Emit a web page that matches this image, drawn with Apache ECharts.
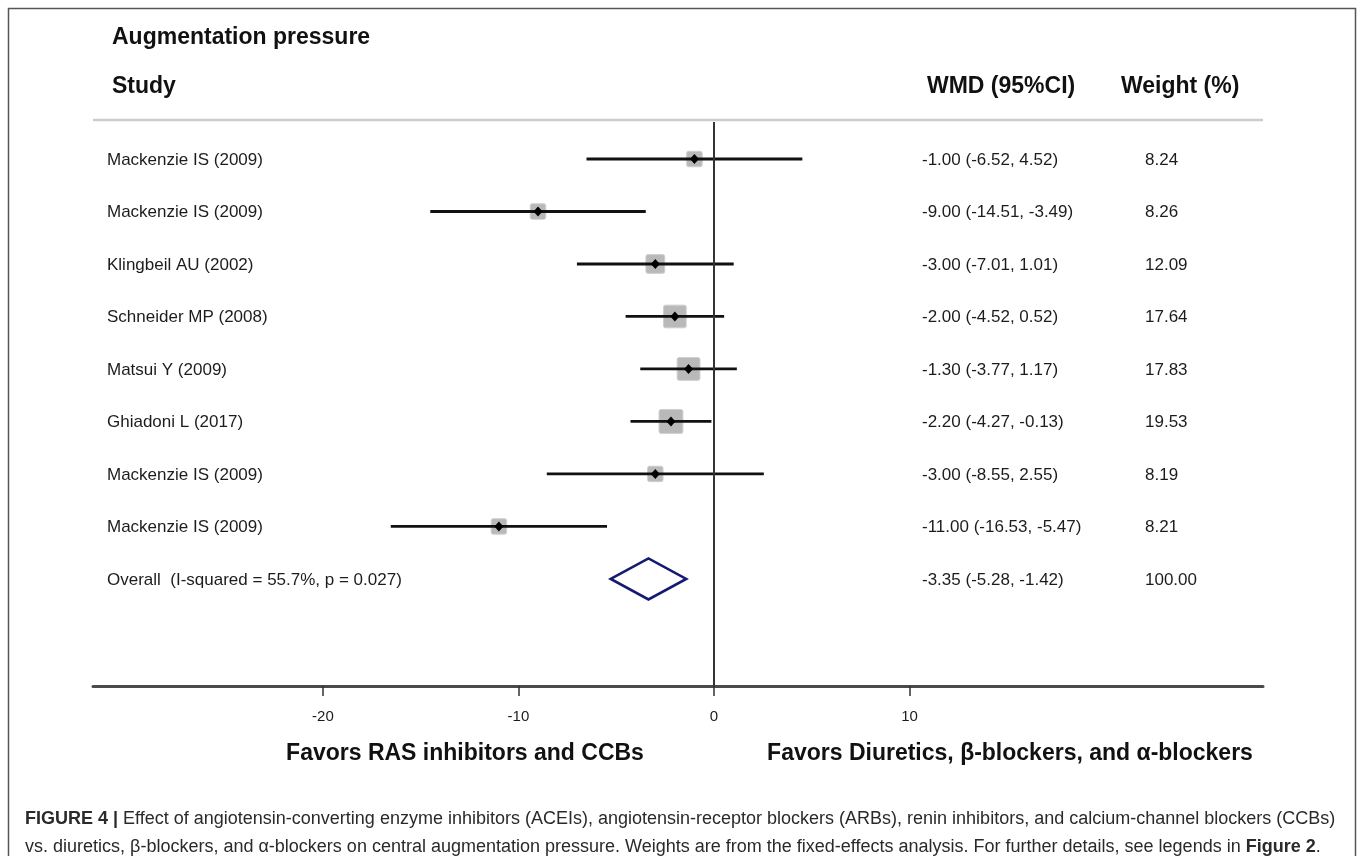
<!DOCTYPE html>
<html>
<head>
<meta charset="utf-8">
<script src="https://cdn.jsdelivr.net/npm/echarts@6/dist/echarts.min.js"></script>
<style>
	html, body { margin: 0; padding: 0; background: #fff; }
	#forest_chart { width: 1357px; height: 856px; }
</style>
</head>
<body>
<div id="forest_chart"></div>
<script>
//研究数据
var study_names = ['Mackenzie IS (2009)', 'Mackenzie IS (2009)', 'Klingbeil AU (2002)', 'Schneider MP (2008)',
	'Matsui Y (2009)', 'Ghiadoni L (2017)', 'Mackenzie IS (2009)', 'Mackenzie IS (2009)'];
var study_wmd = [-1.00, -9.00, -3.00, -2.00, -1.30, -2.20, -3.00, -11.00];
var study_lower = [-6.52, -14.51, -7.01, -4.52, -3.77, -4.27, -8.55, -16.53];
var study_upper = [4.52, -3.49, 1.01, 0.52, 1.17, -0.13, 2.55, -5.47];
var study_weight = [8.24, 8.26, 12.09, 17.64, 17.83, 19.53, 8.19, 8.21];

//合并结果
var overall_label = 'Overall  (I-squared = 55.7%, p = 0.027)';
var overall_wmd = -3.35;
var overall_lower = -5.28;
var overall_upper = -1.42;
var overall_weight = 100.00;

var x_ticks = [-20, -10, 0, 10];

var fix2 = function (v) {
	return v.toFixed(2);
};

//表格行: [行号, 名称, WMD文字, 权重文字]
var table_rows = [];
for (var i = 0; i < study_names.length; i++) {
	table_rows.push([i, study_names[i],
		fix2(study_wmd[i]) + ' (' + fix2(study_lower[i]) + ', ' + fix2(study_upper[i]) + ')',
		fix2(study_weight[i])]);
}
table_rows.push([study_names.length, overall_label,
	fix2(overall_wmd) + ' (' + fix2(overall_lower) + ', ' + fix2(overall_upper) + ')',
	fix2(overall_weight)]);

var study_data = [];
for (var j = 0; j < study_names.length; j++) {
	study_data.push([j, study_wmd[j], study_lower[j], study_upper[j], study_weight[j]]);
}
var overall_data = [[study_names.length, overall_wmd, overall_lower, overall_upper]];

var base_font = '"Liberation Sans", Arial, sans-serif';

//单个研究: 置信区间线 + 方块 + 点
var render_study = function (params, api) {
	var row = api.value(0);
	var p_est = api.coord([api.value(1), row]);
	var p_lo = api.coord([api.value(2), row]);
	var p_hi = api.coord([api.value(3), row]);
	var side = 5.4 * Math.sqrt(api.value(4));
	return {
		type: 'group',
		children: [
			{
				type: 'rect',
				shape: { x: p_est[0] - side / 2, y: p_est[1] - side / 2, width: side, height: side, r: 2 },
				style: { fill: '#b9b9b9', stroke: '#cfcfcf', lineWidth: 1 }
			},
			{
				type: 'line',
				shape: { x1: p_lo[0], y1: p_lo[1], x2: p_hi[0], y2: p_hi[1] },
				style: { stroke: '#111', lineWidth: 2.8 }
			},
			{
				type: 'polygon',
				shape: { points: [[p_est[0], p_est[1] - 5], [p_est[0] + 4.5, p_est[1]], [p_est[0], p_est[1] + 5], [p_est[0] - 4.5, p_est[1]]] },
				style: { fill: '#000' }
			}
		]
	};
};

//合并效应菱形
var render_overall = function (params, api) {
	var row = api.value(0);
	var p_est = api.coord([api.value(1), row]);
	var p_lo = api.coord([api.value(2), row]);
	var p_hi = api.coord([api.value(3), row]);
	var h = 20.5;
	return {
		type: 'polygon',
		shape: { points: [[p_lo[0], p_est[1]], [p_est[0], p_est[1] - h], [p_hi[0], p_est[1]], [p_est[0], p_est[1] + h]] },
		style: { fill: 'none', stroke: '#141a72', lineWidth: 2.6, lineJoin: 'miter' }
	};
};

//左右文字列
var render_table = function (params, api) {
	var row = api.value(0);
	var y = api.coord([0, row])[1] + 1;
	var item = table_rows[params.dataIndex];
	var txt = function (x, s) {
		return {
			type: 'text',
			style: { x: x, y: y, text: s, font: '17px ' + base_font, fill: '#1c1c1c', align: 'left', verticalAlign: 'middle' }
		};
	};
	return {
		type: 'group',
		children: [txt(107, item[1]), txt(922, item[2]), txt(1145, item[3])]
	};
};

var forest_setting = {
	animation: false,
	backgroundColor: '#fff',
	grid: { left: 93, top: 122, width: 1170, height: 564 },
	xAxis: {
		type: 'value',
		min: -31.76,
		max: 28.08,
		axisLine: { show: true, onZero: false, lineStyle: { color: '#4a4a4a', width: 3 } },
		axisTick: { show: true, customValues: x_ticks, length: 10, lineStyle: { color: '#333', width: 1.5 } },
		axisLabel: {
			customValues: x_ticks,
			margin: 23,
			fontSize: 15,
			color: '#1c1c1c',
			fontFamily: base_font
		},
		splitLine: { show: false }
	},
	yAxis: {
		type: 'value',
		min: -0.705,
		max: 10.04,
		inverse: true,
		show: false
	},
	graphic: [
		{
			type: 'rect',
			shape: { x: 8.5, y: 8.5, width: 1347, height: 900 },
			style: { fill: 'none', stroke: '#555', lineWidth: 1.5 },
			silent: true
		},
		{
			type: 'line',
			shape: { x1: 93, y1: 120, x2: 1263, y2: 120 },
			style: { stroke: '#cccccc', lineWidth: 2.5 }
		},
		{ type: 'text', style: { x: 112, y: 38, text: 'Augmentation pressure', font: 'bold 23px ' + base_font, fill: '#111', verticalAlign: 'middle' } },
		{ type: 'text', style: { x: 112, y: 87, text: 'Study', font: 'bold 23px ' + base_font, fill: '#111', verticalAlign: 'middle' } },
		{ type: 'text', style: { x: 927, y: 87, text: 'WMD (95%CI)', font: 'bold 23px ' + base_font, fill: '#111', verticalAlign: 'middle' } },
		{ type: 'text', style: { x: 1121, y: 87, text: 'Weight (%)', font: 'bold 23px ' + base_font, fill: '#111', verticalAlign: 'middle' } },
		{ type: 'text', style: { x: 465, y: 754, text: 'Favors RAS inhibitors and CCBs', font: 'bold 23px ' + base_font, fill: '#111', align: 'center', verticalAlign: 'middle' } },
		{ type: 'text', style: { x: 1010, y: 754, text: 'Favors Diuretics, \u03b2-blockers, and \u03b1-blockers', font: 'bold 23px ' + base_font, fill: '#111', align: 'center', verticalAlign: 'middle' } },
		{
			type: 'text',
			style: {
				x: 25, y: 819, verticalAlign: 'middle',
				text: '{b|FIGURE 4 |} Effect of angiotensin-converting enzyme inhibitors (ACEIs), angiotensin-receptor blockers (ARBs), renin inhibitors, and calcium-channel blockers (CCBs)',
				font: '18px ' + base_font, fill: '#2a2a2a',
				rich: { b: { font: 'bold 18px ' + base_font, fill: '#2a2a2a' } }
			}
		},
		{
			type: 'text',
			style: {
				x: 25, y: 847, verticalAlign: 'middle',
				text: 'vs. diuretics, \u03b2-blockers, and \u03b1-blockers on central augmentation pressure. Weights are from the fixed-effects analysis. For further details, see legends in {b|Figure 2}.',
				font: '18px ' + base_font, fill: '#2a2a2a',
				rich: { b: { font: 'bold 18px ' + base_font, fill: '#2a2a2a' } }
			}
		}
	],
	series: [
		{
			name: 'studies',
			type: 'custom',
			renderItem: render_study,
			encode: { x: [1, 2, 3], y: 0 },
			data: study_data,
			z: 3,
			markLine: {
				silent: true,
				symbol: 'none',
				label: { show: false },
				lineStyle: { color: '#333', width: 2, type: 'solid' },
				data: [{ xAxis: 0 }]
			}
		},
		{
			name: 'overall',
			type: 'custom',
			renderItem: render_overall,
			encode: { x: [1, 2, 3], y: 0 },
			data: overall_data,
			z: 3
		},
		{
			name: 'table',
			type: 'custom',
			renderItem: render_table,
			encode: { y: 0 },
			data: table_rows.map(function (r) { return [r[0], 0]; }),
			z: 4
		}
	]
};

var forest_chart = echarts.init(document.getElementById('forest_chart'));
forest_chart.setOption(forest_setting);
</script>
</body>
</html>
